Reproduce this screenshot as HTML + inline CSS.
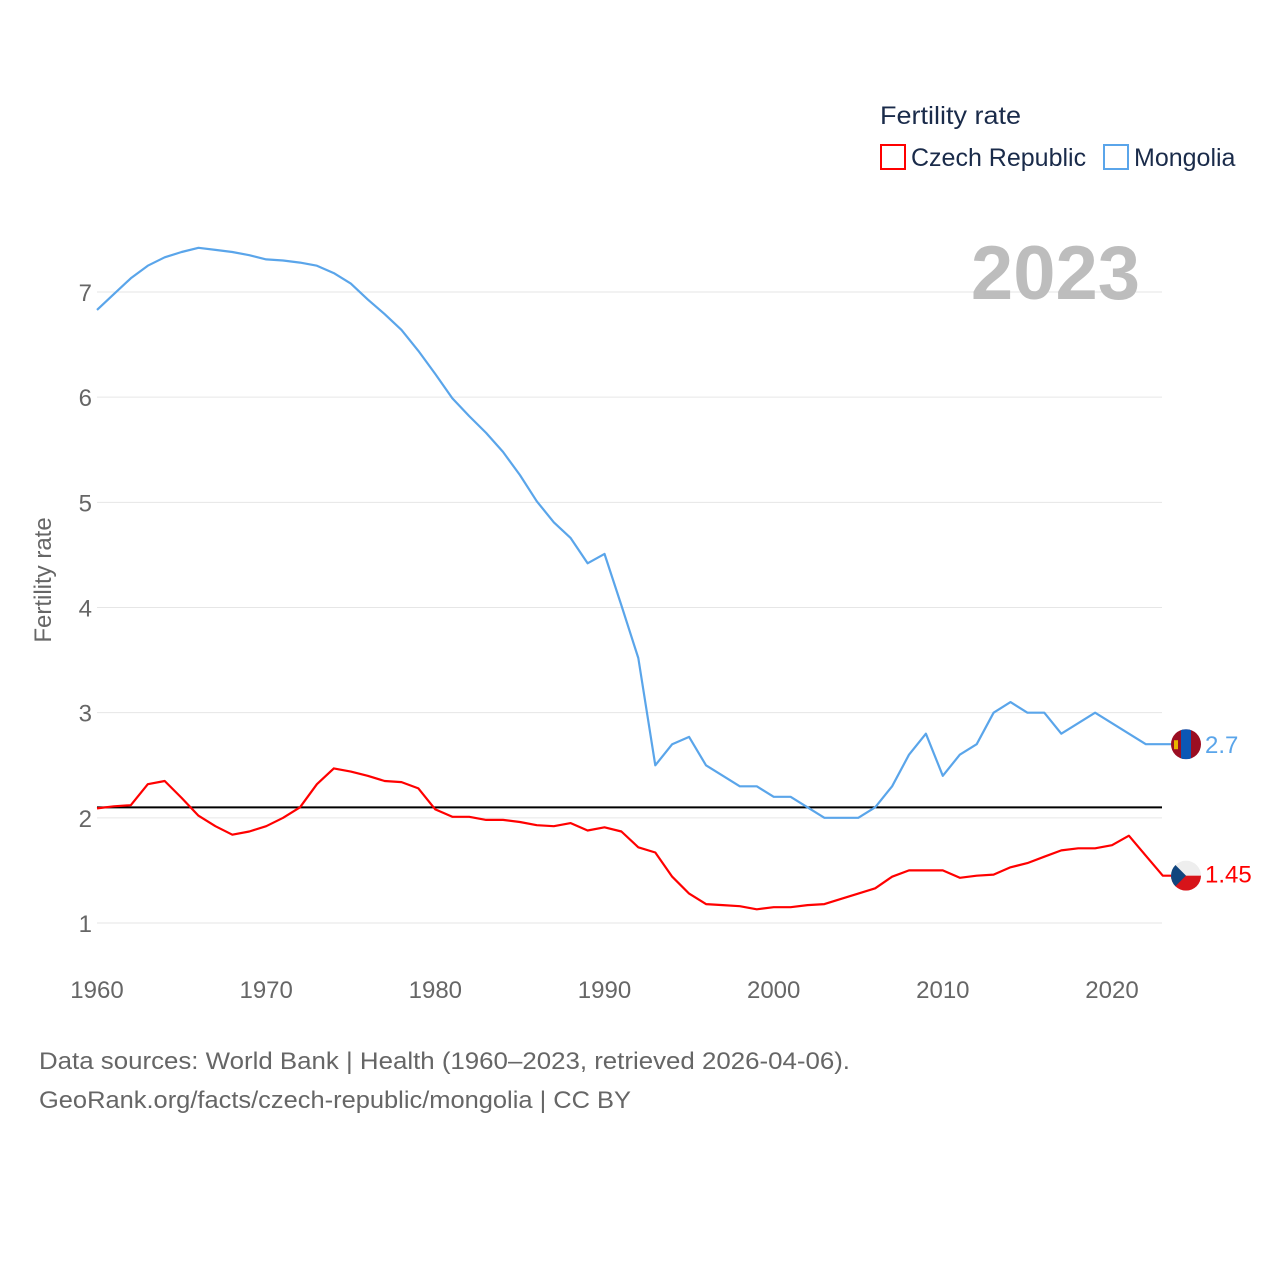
<!DOCTYPE html>
<html><head><meta charset="utf-8"><style>
body{margin:0;background:#fff;font-family:"Liberation Sans",sans-serif}
</style></head><body>
<svg width="1280" height="1280" xmlns="http://www.w3.org/2000/svg">
<g id="grid"></g>
<g id="yt" font-size="24" fill="#666" text-anchor="end"></g>
<g id="xt" font-size="24" fill="#666" text-anchor="middle"></g>
<text transform="translate(51,580) rotate(-90)" font-size="24" fill="#666" text-anchor="middle">Fertility rate</text>
<text x="1140" y="299" font-size="76" font-weight="bold" fill="#bdbdbd" text-anchor="end">2023</text>
<g font-size="25" fill="#1a2b4a">
<text x="880" y="124" textLength="141" lengthAdjust="spacingAndGlyphs">Fertility rate</text>
<rect x="881" y="145" width="24" height="24" fill="none" stroke="#f00" stroke-width="2"/>
<text x="911" y="166">Czech Republic</text>
<rect x="1104" y="145" width="24" height="24" fill="none" stroke="#5aa5ea" stroke-width="2"/>
<text x="1134" y="166">Mongolia</text>
</g>
<g id="lines"></g>
<g font-size="24" fill="#666">
<text x="39" y="1069" textLength="811" lengthAdjust="spacingAndGlyphs">Data sources: World Bank | Health (1960–2023, retrieved 2026-04-06).</text>
<text x="39" y="1108" textLength="592" lengthAdjust="spacingAndGlyphs">GeoRank.org/facts/czech-republic/mongolia | CC BY</text>
</g>
</svg>
<script>
const years=[];for(let y=1960;y<=2023;y++)years.push(y);
const mongolia=[6.83,6.98,7.13,7.25,7.33,7.38,7.42,7.40,7.38,7.35,7.31,7.30,7.28,7.25,7.18,7.08,6.93,6.79,6.64,6.44,6.22,5.99,5.82,5.66,5.48,5.26,5.01,4.81,4.66,4.42,4.51,4.02,3.52,2.50,2.70,2.77,2.50,2.40,2.30,2.30,2.20,2.20,2.10,2.00,2.00,2.00,2.10,2.30,2.60,2.80,2.40,2.60,2.70,3.00,3.10,3.00,3.00,2.80,2.90,3.00,2.90,2.80,2.70,2.70];
const czech=[2.09,2.11,2.12,2.32,2.35,2.19,2.02,1.92,1.84,1.87,1.92,2.00,2.10,2.32,2.47,2.44,2.40,2.35,2.34,2.28,2.08,2.01,2.01,1.98,1.98,1.96,1.93,1.92,1.95,1.88,1.91,1.87,1.72,1.67,1.44,1.28,1.18,1.17,1.16,1.13,1.15,1.15,1.17,1.18,1.23,1.28,1.33,1.44,1.50,1.50,1.50,1.43,1.45,1.46,1.53,1.57,1.63,1.69,1.71,1.71,1.74,1.83,1.64,1.45];
const yTicks=[1,2,3,4,5,6,7];
const xTicks=[1960,1970,1980,1990,2000,2010,2020];
const replacement=2.1;
const X=y=>97+(y-1960)*(1112-97)/60;
const Y=v=>923-(v-1)*(923-292)/6;
const NS="http://www.w3.org/2000/svg";
function mk(t,a,p){const e=document.createElementNS(NS,t);for(const k in a)e.setAttribute(k,a[k]);p.appendChild(e);return e;}
const grid=document.getElementById('grid'),yt=document.getElementById('yt'),xt=document.getElementById('xt'),lines=document.getElementById('lines');
yTicks.forEach(v=>{
 const l=mk('line',{x1:97,x2:1162,y1:Y(v),y2:Y(v),stroke:'#e6e6e6','stroke-width':1},grid);
 
 
 const t=mk('text',{x:92,y:Y(v)+9},yt);t.textContent=v;
 
 
});
xTicks.forEach(v=>{
 const t=mk('text',{x:X(v),y:998},xt);t.textContent=v;
 
 
});
const rl=mk('line',{x1:97,x2:1162,y1:Y(replacement),y2:Y(replacement),stroke:'#000','stroke-width':2},lines);


function series(vals,col,name){
 const d=vals.map((v,i)=>(i?'L':'M')+X(years[i]).toFixed(1)+','+Y(v).toFixed(1)).join('')+'L'+(X(2023)+10)+','+Y(vals[vals.length-1]).toFixed(1);
 const p=mk('path',{d:d,fill:'none',stroke:col,'stroke-width':2.2,'stroke-linejoin':'round'},lines);
 
 
}
series(mongolia,'#5aa5ea','mongolia');
series(czech,'#ff0000','czech');
const mv=mongolia[mongolia.length-1],cv=czech[czech.length-1];
const cx=1186;
const fg=mk('g',{},lines);


const cp1=mk('clipPath',{id:'c1'},fg);mk('circle',{cx:cx,cy:Y(mv),r:15},cp1);
const g1=mk('g',{'clip-path':'url(#c1)'},fg);
mk('rect',{x:cx-15,y:Y(mv)-15,width:30,height:30,fill:'#9b0e22'},g1);
mk('rect',{x:cx-5,y:Y(mv)-15,width:10,height:30,fill:'#0b57b5'},g1);
mk('rect',{x:cx-12,y:Y(mv)-4,width:4,height:9,fill:'#e8b400'},g1);
const fg2=mk('g',{},lines);


const cp=mk('clipPath',{id:'c2'},fg2);mk('circle',{cx:cx,cy:Y(cv),r:15},cp);
const g2=mk('g',{'clip-path':'url(#c2)'},fg2);
mk('rect',{x:cx-15,y:Y(cv)-15,width:30,height:15,fill:'#eeeeee'},g2);
mk('rect',{x:cx-15,y:Y(cv),width:30,height:15,fill:'#d7141a'},g2);
mk('polygon',{points:`${cx-15},${Y(cv)-15} ${cx},${Y(cv)} ${cx-15},${Y(cv)+15}`,fill:'#11457e'},g2);
const t1=mk('text',{x:1205,y:Y(mv)+9,'font-size':24,fill:'#5aa5ea'},lines);t1.textContent=mv;


const t2=mk('text',{x:1205,y:Y(cv)+7,'font-size':24,fill:'#ff0000'},lines);t2.textContent=cv;


</script>
</body></html>
